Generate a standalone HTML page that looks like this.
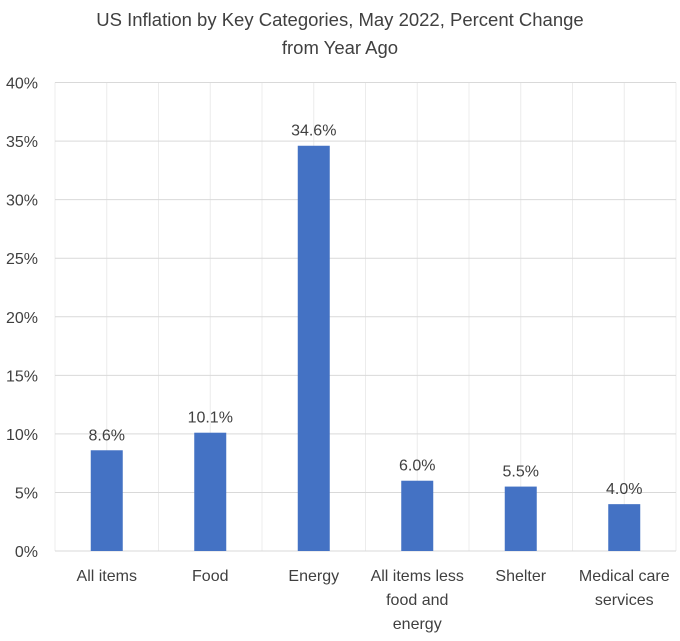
<!DOCTYPE html>
<html><head><meta charset="utf-8"><style>
body{margin:0;background:#fff;font-family:"Liberation Sans",sans-serif}
svg text{font-family:"Liberation Sans",sans-serif;fill:#404040}
</style></head><body>
<svg width="680" height="636" xmlns="http://www.w3.org/2000/svg">
<text x="340" y="26" font-size="18.5" text-anchor="middle">US Inflation by Key Categories, May 2022, Percent Change</text>
<text x="340" y="54" font-size="18.5" text-anchor="middle">from Year Ago</text>
<g id="grid"></g><g id="bars"></g><g id="labels"></g>
</svg>
<script>
const categories=[["All items"],["Food"],["Energy"],["All items less","food and","energy"],["Shelter"],["Medical care","services"]];
const values=[8.6,10.1,34.6,6.0,5.5,4.0];
const valueLabels=["8.6%","10.1%","34.6%","6.0%","5.5%","4.0%"];
const yTicks=[0,5,10,15,20,25,30,35,40];
const ns="http://www.w3.org/2000/svg";
const L=55,R=676,T=82.5,B=551,yMax=40;
const cw=(R-L)/categories.length;
const y=v=>B-(v/yMax)*(B-T);
const x=i=>L+cw*(i+0.5);
function mk(t,a,p){const e=document.createElementNS(ns,t);for(const k in a)e.setAttribute(k,a[k]);p.appendChild(e);return e;}
const grid=document.getElementById('grid'),bars=document.getElementById('bars'),labels=document.getElementById('labels');
for(let k=0;k<=categories.length*2;k++){const xx=L+k*cw/2;
 const l=mk('line',{x1:xx,x2:xx,y1:T,y2:B,stroke:'#ececec','stroke-width':1},grid);
 
 }
yTicks.forEach(v=>{
 const l=mk('line',{x1:L,x2:R,y1:y(v),y2:y(v),stroke:'#d9d9d9','stroke-width':1},grid);
 
 
 const t=mk('text',{x:38,y:y(v)+6,'font-size':16,'text-anchor':'end'},labels);
 t.textContent=v+'%';
 
 
});
values.forEach((v,i)=>{
 const r=mk('rect',{x:x(i)-16,y:y(v),width:32,height:B-y(v),fill:'#4472c4'},bars);
 
 
 const t=mk('text',{x:x(i),y:y(v)-10,'font-size':16,'text-anchor':'middle'},labels);
 t.textContent=valueLabels[i];
 
 
 categories[i].forEach((s,j)=>{
  const c=mk('text',{x:x(i),y:581+j*24,'font-size':16,'text-anchor':'middle'},labels);
  c.textContent=s;
  
  
 });
});
</script>
</body></html>
